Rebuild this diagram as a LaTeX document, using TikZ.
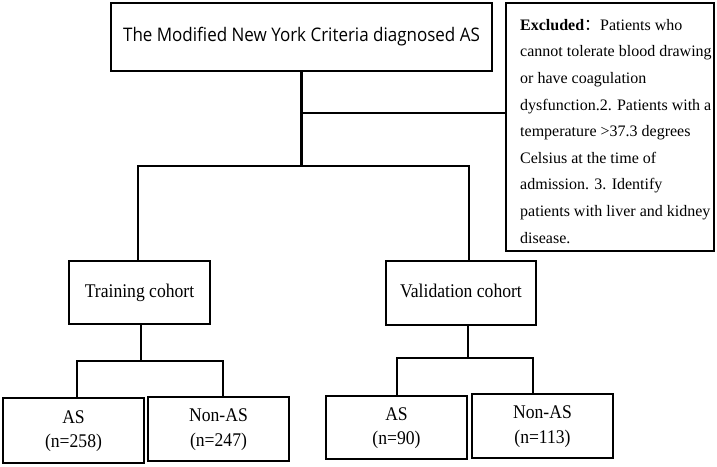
\documentclass[tikz,border=0pt]{standalone}
\usepackage{fontspec}
\usepackage{graphicx}
\setmainfont{Liberation Serif}
\newfontfamily\sansf{Open Sans}
\newfontfamily\cjk{Noto Sans CJK SC}
\newcommand{\talltext}[1]{\scalebox{1}[1.1]{\begin{tabular}{@{}c@{}}#1\end{tabular}}}
\begin{document}
\begin{tikzpicture}[x=1pt,y=-1pt,
  box/.style={draw=black, line width=1.3pt, inner sep=0pt, align=center},
  conn/.style={draw=black, line width=1.3pt},
  trunk/.style={draw=black, line width=2.2pt},
  serif17/.style={font=\fontsize{17.6}{22.7}\selectfont}
]
\useasboundingbox (0,0) rectangle (717,466);
% boxes
\node[box, minimum width=381pt, minimum height=68pt, font=\sansf\fontsize{17}{20}\selectfont] (top) at (301.5,37) {\talltext{The Modified New York Criteria diagnosed AS}};
\node[box, minimum width=208pt, minimum height=248pt] (excl) at (610,127) {};
\node[anchor=north west, inner sep=0pt, align=left, font=\fontsize{16}{26.6}\selectfont] (excltext) at (520,19)
  {\textbf{Excluded}{\cjk ：}Patients who\\
   cannot tolerate blood drawing\\
   or have coagulation\\
   dysfunction.2. Patients with a\\
   temperature >37.3 degrees\\
   Celsius at the time of\\
   admission. 3. Identify\\
   patients with liver and kidney\\
   disease.};
\node[box, serif17, minimum width=141pt, minimum height=63pt] (tr) at (139.5,292.5) {\talltext{Training cohort}};
\node[box, serif17, minimum width=150pt, minimum height=64pt] (va) at (461,293) {\talltext{Validation cohort}};
\node[box, serif17, minimum width=141pt, minimum height=65pt] (as1) at (73.5,430.5) {\talltext{AS\\(n=258)}};
\node[box, serif17, minimum width=141pt, minimum height=64pt] (non1) at (218.5,429) {\talltext{Non-AS\\(n=247)}};
\node[box, serif17, minimum width=141pt, minimum height=63pt] (as2) at (396.5,427.5) {\talltext{AS\\(n=90)}};
\node[box, serif17, minimum width=141pt, minimum height=64pt] (non2) at (542.5,426) {\talltext{Non-AS\\(n=113)}};
% junction coordinates
\coordinate (j1) at (301.5,166);
\coordinate (ex) at (301.5,113);
\coordinate (bl) at (138,166);
\coordinate (br) at (469,166);
\coordinate (tj) at (141,361);
\coordinate (tl) at (77,361);
\coordinate (tr2) at (223,361);
\coordinate (vj) at (468,358);
\coordinate (vl) at (397,358);
\coordinate (vr) at (533,358);
% connectors
\draw[trunk] (top.south) -- (j1);
\draw[conn] (ex) -- (ex -| excl.west);
\draw[conn] (bl |- tr.north) -- (bl) -- (br) -- (br |- va.north);
\draw[conn] (tj |- tr.south) -- (tj);
\draw[conn] (tl |- as1.north) -- (tl) -- (tr2) -- (tr2 |- non1.north);
\draw[conn] (vj |- va.south) -- (vj);
\draw[conn] (vl |- as2.north) -- (vl) -- (vr) -- (vr |- non2.north);
\end{tikzpicture}
\end{document}
